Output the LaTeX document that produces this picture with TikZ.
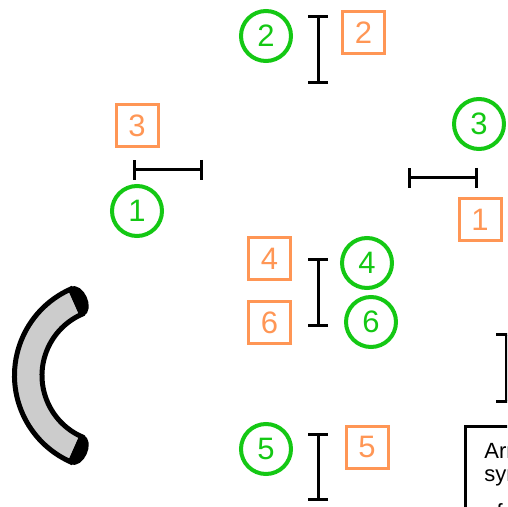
\documentclass[tikz,border=0pt]{standalone}
\usepackage{fontspec}
\setmainfont{Liberation Sans}
\usepackage{tikz}
\usetikzlibrary{arrows.meta}
\usetikzlibrary{calc}

\definecolor{numgreen}{RGB}{20,200,20}
\definecolor{numorange}{RGB}{255,150,85}
\definecolor{tubegray}{RGB}{204,204,204}

\begin{document}
\begin{tikzpicture}[x=0.5pt,y=0.5pt,
  gcirc/.style={circle,draw=numgreen,text=numgreen,line width=2pt,minimum size=25pt,inner sep=0pt,font=\fontsize{15.5}{18}\selectfont},
  obox/.style={rectangle,draw=numorange,text=numorange,line width=1.5pt,minimum size=21pt,inner sep=0pt,font=\fontsize{15.5}{18}\selectfont},
  ibar/.style={line width=1.5pt,{Bar[width=10pt]}-{Bar[width=10pt]}}]
\useasboundingbox (0,0) rectangle (507,-507);
\clip (0,0) rectangle (507,-507);
% numbered markers
\node[gcirc] (g1) at (137,-211) {1};
\node[gcirc] (g2) at (266,-36) {2};
\node[gcirc] (g3) at (479,-124) {3};
\node[gcirc] (g4) at (367,-263) {4};
\node[gcirc] (g5) at (266,-449) {5};
\node[gcirc] (g6) at (371,-322) {6};
\node[obox] (o1) at (480,-220) {1};
\node[obox] (o2) at (363.5,-32.5) {2};
\node[obox] (o3) at (137,-125.5) {3};
\node[obox] (o4) at (269.5,-258.5) {4};
\node[obox] (o5) at (367,-447) {5};
\node[obox] (o6) at (269.5,-322.5) {6};
% bars
\draw[ibar] (318,-15) -- (318,-84);
\draw[ibar] (133,-170) -- (203,-170);
\draw[ibar] (408,-178) -- (478,-178);
\draw[ibar] (318,-258) -- (318,-327);
\draw[ibar] (318,-433) -- (318,-501);
\draw[ibar] (506,-333) -- (506,-403);
% bent tube
\coordinate (tube) at (109,-375.5);
\draw[line width=2.5pt,fill=tubegray] ($(tube)+(114:94.5)$) arc[start angle=114,end angle=246,radius=94.5]
  -- ($(tube)+(246:67)$) arc[start angle=246,end angle=114,radius=67] -- cycle;
\filldraw[line width=2.5pt,line join=round] ($(tube)+(114:94.5)$) .. controls ($(tube)+(114:94.5)+(24:12)$) and ($(tube)+(114:67)+(24:12)$) .. ($(tube)+(114:67)$) -- cycle;
\filldraw[line width=2.5pt,line join=round] ($(tube)+(246:94.5)$) .. controls ($(tube)+(246:94.5)+(336:12)$) and ($(tube)+(246:67)+(336:12)$) .. ($(tube)+(246:67)$) -- cycle;
% note box
\draw[line width=1.5pt] (465.5,-600) |- (600,-426.5);
\node[anchor=base west,align=left,inner sep=0pt,font=\fontsize{11}{11.5}\selectfont] (note) at (484,-519) {Arrows mark\\symmetry axes\\[7.5pt]of the layout};
\end{tikzpicture}
\end{document}
